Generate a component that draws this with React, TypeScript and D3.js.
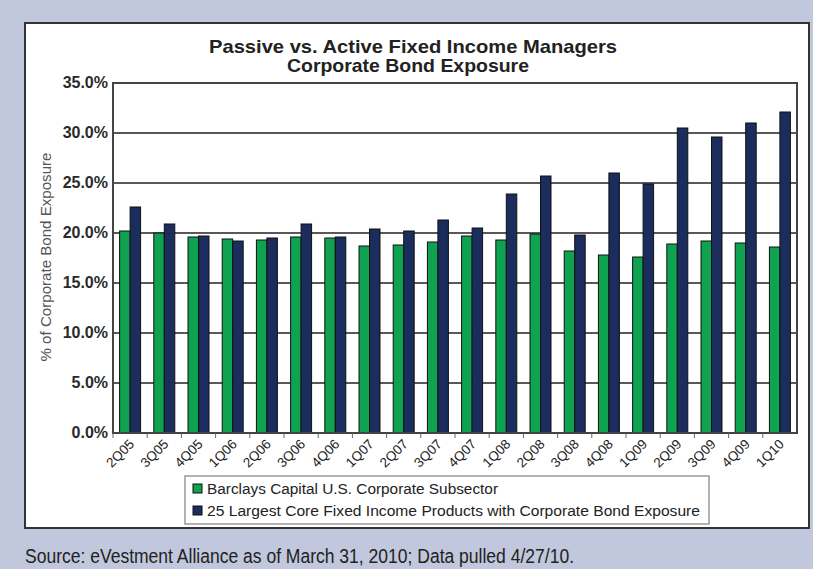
import React from 'react';
import * as d3 from 'd3';

// Data
const quarters = ['2Q05', '3Q05', '4Q05', '1Q06', '2Q06', '3Q06', '4Q06', '1Q07', '2Q07', '3Q07',
  '4Q07', '1Q08', '2Q08', '3Q08', '4Q08', '1Q09', '2Q09', '3Q09', '4Q09', '1Q10'];
const barclays = [20.2, 20.0, 19.6, 19.4, 19.3, 19.6, 19.5, 18.7, 18.8, 19.1,
  19.7, 19.3, 19.9, 18.2, 17.8, 17.6, 18.9, 19.2, 19.0, 18.6];
const largest25 = [22.6, 20.9, 19.7, 19.2, 19.5, 20.9, 19.6, 20.4, 20.2, 21.3,
  20.5, 23.9, 25.7, 19.8, 26.0, 24.9, 30.5, 29.6, 31.0, 32.1];
const yTicks = [0, 5, 10, 15, 20, 25, 30, 35];
const seriesNames = ['Barclays Capital U.S. Corporate Subsector',
  '25 Largest Core Fixed Income Products with Corporate Bond Exposure'];
const seriesColors = ['#0fa351', '#1b2d5c'];

const W = 813;
const H = 569;
const plot = { left: 113, right: 797, top: 83, bottom: 433 };

const App = () => {
  const x = d3.scaleBand<string>().domain(quarters).range([plot.left, plot.right]).padding(0);
  const xs = d3.scaleBand<number>().domain([0, 1]).range([0, x.bandwidth()]).paddingOuter(0.63).paddingInner(0);
  const y = d3.scaleLinear().domain([0, 35]).range([plot.bottom, plot.top]);
  const series = [barclays, largest25];
  const fmt = (v: number) => v.toFixed(1) + '%';

  return (
    <svg width={W} height={H} style={{ position: 'absolute', left: 0, top: 0 }}
      fontFamily="Arial, 'Liberation Sans', Helvetica, sans-serif">
      <rect x={0} y={0} width={W} height={H} fill="#c1c7dc" />
      {/* card */}
      <rect x={25} y={23} width={784} height={505} fill="#fff" stroke="#333" strokeWidth={2} />

      {/* title */}
      <text x={413} y={53} textAnchor="middle" fontSize={19} fontWeight="bold" fill="#222"
        textLength={408} lengthAdjust="spacingAndGlyphs">Passive vs. Active Fixed Income Managers</text>
      <text x={408} y={72} textAnchor="middle" fontSize={19} fontWeight="bold" fill="#222"
        textLength={242} lengthAdjust="spacingAndGlyphs">Corporate Bond Exposure</text>

      {/* gridlines */}
      {yTicks.map(t => (
        <line key={t} x1={plot.left} x2={plot.right} y1={y(t)} y2={y(t)} stroke="#222" strokeWidth={1.5} />
      ))}

      {/* bars */}
      {series.map((vals, si) => (
        <g key={si} fill={seriesColors[si]} stroke="#111" strokeWidth={1}>
          {quarters.map((q, i) => (
            <rect key={q} x={(x(q) as number) + (xs(si) as number)} y={y(vals[i])}
              width={xs.bandwidth()} height={y(0) - y(vals[i])} />
          ))}
        </g>
      ))}

      {/* plot frame */}
      <rect x={plot.left} y={plot.top} width={plot.right - plot.left} height={plot.bottom - plot.top}
        fill="none" stroke="#444" strokeWidth={2} />

      {/* y labels */}
      {yTicks.map(t => (
        <text key={t} x={108} y={y(t) + 5} textAnchor="end" fontSize={16} fontWeight="bold" fill="#2a2a2a">{fmt(t)}</text>
      ))}
      <text transform={`translate(51,257) rotate(-90)`} textAnchor="middle"
        fontSize={14.5} fill="#555" textLength={209} lengthAdjust="spacingAndGlyphs">% of Corporate Bond Exposure</text>

      {/* x ticks and labels */}
      {quarters.map(q => (
        <line key={q} x1={x(q) as number} x2={x(q) as number} y1={plot.bottom} y2={plot.bottom + 5} stroke="#666" />
      ))}
      {quarters.map(q => {
        const cx = (x(q) as number) + x.bandwidth() / 2;
        return (
          <text key={q} transform={`translate(${cx + 5},${plot.bottom + 12}) rotate(-45)`} textAnchor="end"
            fontSize={13.5} fill="#222">{q}</text>
        );
      })}

      {/* legend */}
      <rect x={185} y={476} width={524} height={48} fill="#fff" stroke="#999" strokeWidth={1.5} />
      {seriesNames.map((name, i) => (
        <g key={name}>
          <rect x={193} y={484 + i * 22} width={9} height={9} fill={seriesColors[i]} stroke="#111" />
          <text x={207} y={494 + i * 22} fontSize={14} fill="#222"
            textLength={i === 0 ? 291 : 493} lengthAdjust="spacingAndGlyphs">{name}</text>
        </g>
      ))}

      {/* source */}
      <text x={25} y={563} fontSize={20} fill="#222" fontFamily="'Liberation Sans Narrow', 'Arial Narrow', Arial, sans-serif"
        textLength={549} lengthAdjust="spacingAndGlyphs">Source: eVestment Alliance as of March 31, 2010; Data pulled 4/27/10.</text>
    </svg>
  );
};

export default App;
